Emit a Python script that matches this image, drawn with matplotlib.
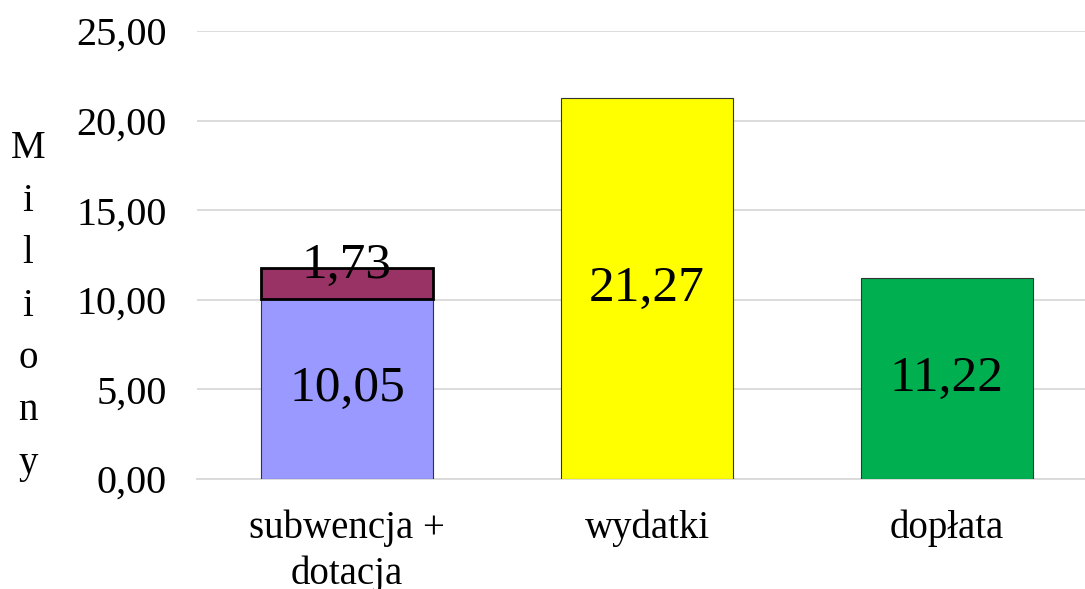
import matplotlib
matplotlib.use("Agg")
import matplotlib.pyplot as plt

categories = ["subwencja +\ndotacja", "wydatki", "dopłata"]
base_values = [10.05, 21.27, 11.22]
top_values = [1.73, 0, 0]
base_colors = ["#9999FF", "#FFFF00", "#00B050"]
top_color = "#993366"
yticks = [0, 5, 10, 15, 20, 25]

plt.rcParams['font.family'] = ['Liberation Serif', 'DejaVu Serif']

fig = plt.figure(figsize=(10.85, 5.89), dpi=100)
ax = fig.add_axes([197 / 1085, 110 / 589, (1085 - 197) / 1085, 448 / 589])

x = range(len(categories))
ax.bar(x, base_values, width=0.573, color=base_colors, edgecolor="#333333", linewidth=0.8, zorder=3)
ax.bar([0], [top_values[0]], bottom=[base_values[0]], width=0.573, color=top_color,
       edgecolor="black", linewidth=2, zorder=3)

# labels
for i, v in enumerate(base_values):
    ax.text(i, v / 2, f"{v:.2f}".replace(".", ","), ha="center", va="center", fontsize=37, zorder=4)
ax.text(0, base_values[0] + top_values[0] / 2 + 1.0, f"{top_values[0]:.2f}".replace(".", ","),
        ha="center", va="center", fontsize=37, zorder=4)

ax.set_ylim(0, 25)
ax.set_xlim(-0.5, 2.46)
ax.set_yticks(yticks)
ax.set_yticklabels([f"{t:.2f}".replace(".", ",") for t in yticks], fontsize=29)
ax.set_xticks(list(x))
ax.set_xticklabels(categories, fontsize=28, linespacing=1.3)
ax.tick_params(axis="both", length=0)
ax.tick_params(axis="y", pad=22)
ax.tick_params(axis="x", pad=22)
ax.grid(axis="y", color="#D9D9D9", linewidth=1.3, zorder=0)
for s in ["top", "right", "left"]:
    ax.spines[s].set_visible(False)
ax.spines["bottom"].set_color("#D9D9D9")
ax.spines["bottom"].set_linewidth(1.3)

fig.text(28 / 1085, 1 - 306 / 589, "M\ni\nl\ni\no\nn\ny", ha="center", va="center",
         fontsize=28, linespacing=1.55)

fig.savefig("out.png", dpi=100)
